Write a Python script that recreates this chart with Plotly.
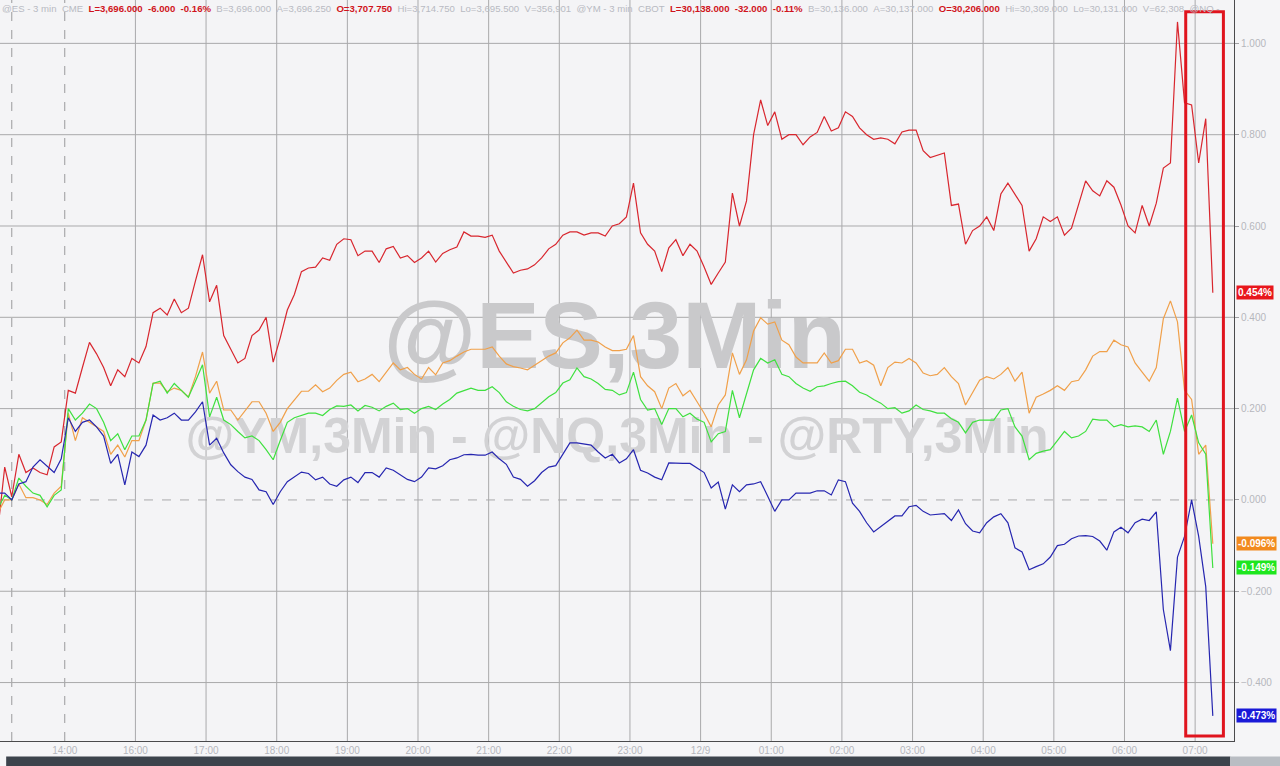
import plotly.graph_objects as go
import pandas as pd

# 6-minute samples of the 3-min bars, no trading between 15:00 and 16:00
times_pre = pd.date_range("2020-12-08 13:03", "2020-12-08 14:57", freq="6min")
times_post = pd.date_range("2020-12-08 16:03", "2020-12-09 07:15", freq="6min")
times = times_pre.append(times_post)

# % change
nq_pct = [
    -0.07, 0.072, 0.007, 0.10, 0.06, 0.07, 0.06, 0.055, 0.116, 0.127,
    0.24, 0.234, 0.29, 0.345, 0.32, 0.29, 0.25, 0.285, 0.27, 0.31,
    0.30, 0.336, 0.41, 0.42, 0.405, 0.44, 0.41, 0.42, 0.48, 0.537,
    0.434, 0.47, 0.36, 0.33, 0.30, 0.31, 0.36, 0.372, 0.40, 0.302,
    0.355, 0.416, 0.45, 0.50, 0.508, 0.51, 0.53, 0.525, 0.56, 0.572,
    0.57, 0.535, 0.545, 0.545, 0.52, 0.55, 0.555, 0.53, 0.535, 0.52,
    0.53, 0.545, 0.521, 0.54, 0.548, 0.554, 0.587, 0.578, 0.578, 0.575,
    0.58, 0.545, 0.522, 0.497, 0.503, 0.506, 0.515, 0.53, 0.55, 0.56,
    0.58, 0.587, 0.587, 0.58, 0.585, 0.585, 0.578, 0.60, 0.605, 0.62,
    0.694, 0.585, 0.56, 0.545, 0.50, 0.552, 0.57, 0.535, 0.56, 0.545,
    0.51, 0.472, 0.497, 0.521, 0.672, 0.60, 0.655, 0.80, 0.876, 0.82,
    0.85, 0.79, 0.80, 0.80, 0.778, 0.795, 0.805, 0.84, 0.808, 0.815,
    0.85, 0.84, 0.815, 0.80, 0.79, 0.793, 0.79, 0.78, 0.806, 0.81,
    0.81, 0.765, 0.75, 0.755, 0.76, 0.645, 0.648, 0.56, 0.59, 0.60,
    0.62, 0.59, 0.67, 0.694, 0.668, 0.645, 0.545, 0.572, 0.62, 0.61,
    0.62, 0.58, 0.595, 0.645, 0.699, 0.677, 0.666, 0.699, 0.685, 0.646,
    0.60, 0.585, 0.645, 0.60, 0.65, 0.727, 0.738, 1.047, 0.87, 0.865,
    0.738, 0.835, 0.454,
]
es_pct = [
    -0.03, 0.0, 0.0, 0.035, 0.005, 0.005, 0.0, -0.01, 0.015, 0.03,
    0.19, 0.13, 0.18, 0.17, 0.16, 0.15, 0.10, 0.12, 0.094, 0.13,
    0.13, 0.175, 0.256, 0.256, 0.237, 0.245, 0.24, 0.225, 0.27, 0.324,
    0.234, 0.26, 0.197, 0.197, 0.175, 0.195, 0.215, 0.215, 0.19, 0.15,
    0.17, 0.20, 0.22, 0.238, 0.238, 0.252, 0.237, 0.245, 0.262, 0.275,
    0.28, 0.259, 0.265, 0.275, 0.259, 0.28, 0.30, 0.285, 0.29, 0.275,
    0.265, 0.29, 0.274, 0.30, 0.305, 0.315, 0.324, 0.33, 0.33, 0.33,
    0.335, 0.315, 0.298, 0.292, 0.289, 0.285, 0.295, 0.305, 0.315, 0.322,
    0.344, 0.355, 0.372, 0.35, 0.35, 0.346, 0.335, 0.327, 0.327, 0.33,
    0.36, 0.27, 0.25, 0.237, 0.20, 0.245, 0.255, 0.228, 0.24, 0.215,
    0.19, 0.16, 0.208, 0.23, 0.322, 0.275, 0.307, 0.37, 0.399, 0.385,
    0.39, 0.35, 0.34, 0.313, 0.30, 0.30, 0.30, 0.322, 0.30, 0.305,
    0.33, 0.33, 0.30, 0.305, 0.295, 0.25, 0.29, 0.302, 0.30, 0.31,
    0.30, 0.278, 0.272, 0.275, 0.29, 0.27, 0.255, 0.208, 0.235, 0.262,
    0.27, 0.265, 0.275, 0.29, 0.26, 0.28, 0.19, 0.225, 0.232, 0.24,
    0.25, 0.24, 0.259, 0.262, 0.285, 0.315, 0.325, 0.325, 0.35, 0.34,
    0.335, 0.30, 0.28, 0.26, 0.29, 0.397, 0.436, 0.39, 0.24, 0.22,
    0.10, 0.12, -0.096,
]
ym_pct = [
    -0.02, 0.01, 0.0, 0.048, 0.03, 0.015, 0.01, -0.015, 0.01, 0.022,
    0.20, 0.175, 0.19, 0.21, 0.20, 0.17, 0.13, 0.145, 0.11, 0.14,
    0.14, 0.175, 0.255, 0.26, 0.234, 0.255, 0.24, 0.225, 0.26, 0.296,
    0.182, 0.225, 0.175, 0.165, 0.15, 0.136, 0.14, 0.13, 0.11, 0.088,
    0.13, 0.17, 0.18, 0.185, 0.19, 0.19, 0.185, 0.198, 0.206, 0.205,
    0.208, 0.195, 0.207, 0.203, 0.195, 0.205, 0.212, 0.198, 0.20, 0.19,
    0.20, 0.205, 0.198, 0.21, 0.22, 0.234, 0.24, 0.245, 0.24, 0.24,
    0.248, 0.235, 0.215, 0.205, 0.198, 0.195, 0.20, 0.213, 0.226, 0.235,
    0.256, 0.263, 0.289, 0.27, 0.265, 0.255, 0.242, 0.24, 0.23, 0.235,
    0.28, 0.22, 0.197, 0.20, 0.165, 0.20, 0.20, 0.182, 0.19, 0.177,
    0.17, 0.127, 0.145, 0.15, 0.24, 0.18, 0.235, 0.285, 0.31, 0.30,
    0.307, 0.275, 0.27, 0.255, 0.245, 0.238, 0.248, 0.25, 0.255, 0.259,
    0.26, 0.25, 0.236, 0.23, 0.22, 0.212, 0.20, 0.202, 0.19, 0.195,
    0.208, 0.198, 0.195, 0.19, 0.19, 0.178, 0.17, 0.147, 0.17, 0.175,
    0.175, 0.175, 0.197, 0.20, 0.16, 0.14, 0.088, 0.102, 0.107, 0.11,
    0.13, 0.15, 0.136, 0.14, 0.15, 0.177, 0.175, 0.175, 0.16, 0.165,
    0.16, 0.162, 0.16, 0.15, 0.175, 0.10, 0.15, 0.223, 0.15, 0.186,
    0.125, 0.10, -0.149,
]
rty_pct = [
    0.015, 0.015, 0.0, 0.035, 0.04, 0.072, 0.088, 0.075, 0.06, 0.09,
    0.18, 0.15, 0.17, 0.175, 0.16, 0.14, 0.08, 0.10, 0.033, 0.105,
    0.095, 0.12, 0.186, 0.175, 0.18, 0.19, 0.175, 0.175, 0.193, 0.215,
    0.12, 0.135, 0.103, 0.077, 0.062, 0.05, 0.045, 0.022, 0.018, -0.01,
    0.018, 0.04, 0.05, 0.061, 0.058, 0.044, 0.05, 0.035, 0.03, 0.044,
    0.05, 0.038, 0.06, 0.06, 0.05, 0.07, 0.065, 0.055, 0.045, 0.04,
    0.05, 0.07, 0.068, 0.075, 0.088, 0.092, 0.099, 0.10, 0.098, 0.098,
    0.105, 0.09, 0.078, 0.05, 0.045, 0.03, 0.042, 0.06, 0.072, 0.075,
    0.10, 0.125, 0.125, 0.122, 0.12, 0.105, 0.092, 0.10, 0.081, 0.09,
    0.11, 0.065, 0.059, 0.05, 0.044, 0.081, 0.08, 0.08, 0.08, 0.07,
    0.06, 0.026, 0.039, -0.02, 0.033, 0.018, 0.033, 0.035, 0.04, 0.008,
    -0.025, 0.0, 0.0, 0.015, 0.015, 0.015, 0.02, 0.02, 0.011, 0.044,
    0.04, -0.007, -0.025, -0.05, -0.07, -0.058, -0.045, -0.035, -0.035, -0.015,
    -0.012, -0.025, -0.033, -0.032, -0.03, -0.045, -0.022, -0.052, -0.068, -0.072,
    -0.05, -0.037, -0.03, -0.05, -0.105, -0.114, -0.153, -0.146, -0.14, -0.125,
    -0.10, -0.097, -0.085, -0.079, -0.078, -0.08, -0.09, -0.11, -0.07, -0.06,
    -0.072, -0.05, -0.042, -0.045, -0.026, -0.24, -0.33, -0.125, -0.08, 0.0,
    -0.08, -0.19, -0.473,
]

line_colors = {"nq": "#d8262e", "es": "#f0a04a", "ym": "#3fe03f", "rty": "#2626b0"}
tag_colors = {"nq": "#e8161c", "es": "#f28a1e", "ym": "#1ee61e", "rty": "#1a1ad8"}
last_values = {"nq": 0.454, "es": -0.096, "ym": -0.149, "rty": -0.473}

tick_times = ["2020-12-08 14:00", "2020-12-08 16:00", "2020-12-08 17:00", "2020-12-08 18:00",
              "2020-12-08 19:00", "2020-12-08 20:00", "2020-12-08 21:00", "2020-12-08 22:00",
              "2020-12-08 23:00", "2020-12-09 00:00", "2020-12-09 01:00", "2020-12-09 02:00",
              "2020-12-09 03:00", "2020-12-09 04:00", "2020-12-09 05:00", "2020-12-09 06:00",
              "2020-12-09 07:00"]
tick_labels = ["14:00", "16:00", "17:00", "18:00", "19:00", "20:00", "21:00", "22:00", "23:00",
               "12/9", "01:00", "02:00", "03:00", "04:00", "05:00", "06:00", "07:00"]
session_marks = ["2020-12-08 13:15", "2020-12-08 14:00"]
y_ticks = [-0.4, -0.2, 0.0, 0.2, 0.4, 0.6, 0.8, 1.0]

grey = "#b8bac2"
red_txt = "#d0141c"
header = [
    ("@ES - 3 min", grey), ("CME", grey), ("<b>L=3,696.000</b>", red_txt), ("<b>-6.000</b>", red_txt),
    ("<b>-0.16%</b>", red_txt), ("B=3,696.000", grey), ("A=3,696.250", grey), ("<b>O=3,707.750</b>", red_txt),
    ("Hi=3,714.750", grey), ("Lo=3,695.500", grey), ("V=356,901", grey), ("@YM - 3 min", grey),
    ("CBOT", grey), ("<b>L=30,138.000</b>", red_txt), ("<b>-32.000</b>", red_txt), ("<b>-0.11%</b>", red_txt),
    ("B=30,136.000", grey), ("A=30,137.000", grey), ("<b>O=30,206.000</b>", red_txt), ("Hi=30,309.000", grey),
    ("Lo=30,131.000", grey), ("V=62,308", grey), ("@NQ -", grey),
]

fig = go.Figure()

# watermarks go first so the lines are drawn on top of them
fig.add_trace(go.Scatter(
    x=["2020-12-08 22:47", "2020-12-08 22:49"], y=[0.34, 0.131],
    mode="text", text=["<b>@ES,3Min</b>", "<b>@YM,3Min - @NQ,3Min - @RTY,3Min</b>"],
    textfont=dict(family="Liberation Sans, Arial", size=[95, 50], color=["#c9c9cb", "#d2d2d4"]),
    textposition="middle center", hoverinfo="skip", showlegend=False,
))

for key, vals in [("nq", nq_pct), ("es", es_pct), ("ym", ym_pct), ("rty", rty_pct)]:
    fig.add_trace(go.Scatter(
        x=times, y=vals, mode="lines", line=dict(color=line_colors[key], width=1.2),
        name=key.upper(), showlegend=False,
    ))

shapes = []
for t in tick_times:
    if t in session_marks:
        continue
    shapes.append(dict(type="line", xref="x", yref="paper", x0=t, x1=t, y0=0, y1=1,
                       line=dict(color="#a9a9ab", width=1), layer="below"))
for t in session_marks:
    shapes.append(dict(type="line", xref="x", yref="paper", x0=t, x1=t, y0=0, y1=1,
                       line=dict(color="#9a9a9c", width=1, dash="dash"), layer="below"))
for v in y_ticks:
    shapes.append(dict(type="line", xref="paper", yref="y", x0=0, x1=1, y0=v, y1=v,
                       line=dict(color="#a9a9ab", width=1, dash="dash" if v == 0 else "solid"),
                       layer="below"))

# highlight box around the last half hour
shapes.append(dict(type="rect", xref="x", yref="y", x0="2020-12-09 06:52", x1="2020-12-09 07:24",
                   y0=-0.517, y1=1.069, line=dict(color="#e0141e", width=3)))

# scroll bar strip under the axis
shapes.append(dict(type="rect", xref="paper", yref="paper", x0=0.005, x1=0.997, y0=-0.034, y1=-0.021,
                   fillcolor="#3c434c", line=dict(width=0)))
shapes.append(dict(type="rect", xref="paper", yref="paper", x0=0.997, x1=1.04, y0=-0.034, y1=-0.021,
                   fillcolor="#b9bdc3", line=dict(width=0)))

annotations = [dict(
    xref="paper", yref="paper", x=0, y=1, xanchor="left", yanchor="top", yshift=-1, showarrow=False,
    text="&nbsp;&nbsp;".join(f"<span style='color:{c}'>{s}</span>" for s, c in header),
    font=dict(family="Liberation Sans, Arial", size=9.6), align="left",
)]
for key, v in last_values.items():
    annotations.append(dict(
        xref="paper", yref="y", x=1, y=v, xanchor="left", xshift=2, showarrow=False,
        text=f"<b>{v:.3f}%</b>", bgcolor=tag_colors[key], borderpad=1,
        font=dict(family="Liberation Sans, Arial", size=10, color="white"),
    ))

fig.update_layout(
    width=1280, height=766,
    margin=dict(l=0, r=46, t=0, b=25),
    paper_bgcolor="#f5f5f7", plot_bgcolor="#f4f4f6",
    shapes=shapes, annotations=annotations,
    showlegend=False,
    xaxis=dict(
        type="date", range=["2020-12-08 13:05", "2020-12-09 07:33"],
        rangebreaks=[dict(bounds=[15, 16], pattern="hour")],
        tickvals=tick_times, ticktext=tick_labels, showgrid=False, zeroline=False,
        showline=True, linecolor="#4a4a4c", linewidth=1,
        tickfont=dict(family="Liberation Sans, Arial", size=10, color="#b5b7bd"),
    ),
    yaxis=dict(
        side="right", range=[-0.528, 1.095], tickvals=y_ticks, tickformat=".3f", ticksuffix="%",
        showgrid=False, zeroline=False, showline=True, linecolor="#4a4a4c", linewidth=1,
        ticks="outside", ticklen=4, tickcolor="#a0a0a4",
        tickfont=dict(family="Liberation Sans, Arial", size=10, color="#b5b7bd"),
    ),
)

# page margin off so the 1280x766 figure fills the window exactly
fig.write_html(
    "out.html",
    config={"displayModeBar": False},
    post_script="document.body.style.margin='0';document.body.style.overflow='hidden';",
)
